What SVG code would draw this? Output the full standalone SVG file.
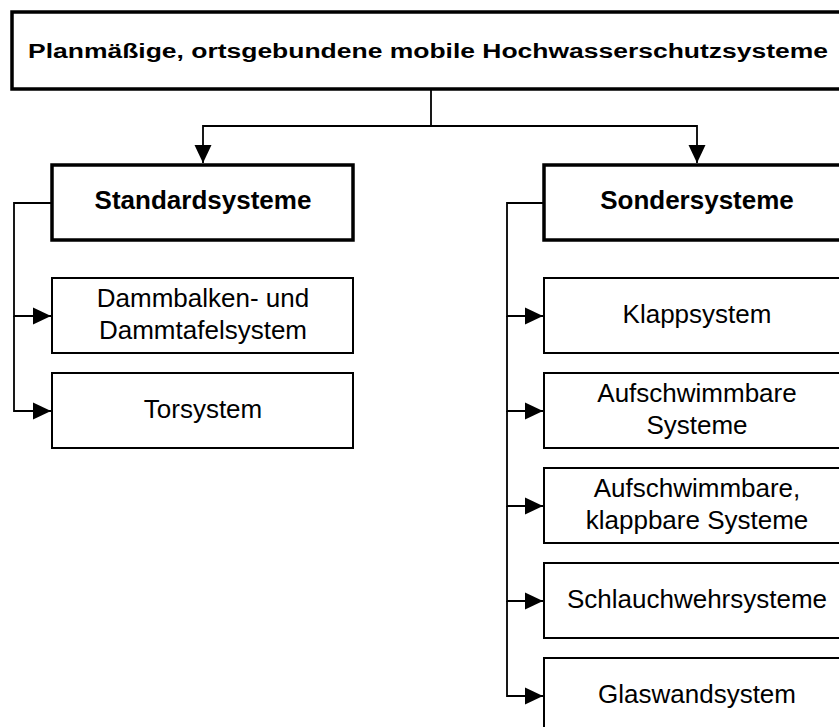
<svg xmlns="http://www.w3.org/2000/svg" width="839" height="727" viewBox="0 0 839 727">
<defs>
<marker id="ah" markerUnits="userSpaceOnUse" markerWidth="18" markerHeight="18" viewBox="0 0 18 18" refX="18" refY="9" orient="auto">
<path d="M0,0.5 L18,9 L0,17.5 Z" fill="#000"/>
</marker>
<style>
.thick{fill:#fff;stroke:#000;stroke-width:3.5}
.thin{fill:#fff;stroke:#000;stroke-width:2}
.con{fill:none;stroke:#000;stroke-width:1.8}
text{font-family:"Liberation Sans",Arial,sans-serif;font-size:26px;fill:#000;text-anchor:middle}
.b{font-weight:bold}
.t{font-size:19.5px}
</style>
</defs>
<rect width="839" height="727" fill="#fff"/>
<g id="connectors">
<polyline class="con" points="431,89 431,126 203,126 203,163" marker-end="url(#ah)"/>
<polyline class="con" points="431,126 697,126 697,163" marker-end="url(#ah)"/>
<polyline class="con" points="52,203 14,203 14,316 51,316" marker-end="url(#ah)"/>
<polyline class="con" points="14,316 14,411 51,411" marker-end="url(#ah)"/>
<polyline class="con" points="544,203 507,203 507,316 543,316" marker-end="url(#ah)"/>
<polyline class="con" points="507,316 507,411 543,411" marker-end="url(#ah)"/>
<polyline class="con" points="507,411 507,506 543,506" marker-end="url(#ah)"/>
<polyline class="con" points="507,506 507,601 543,601" marker-end="url(#ah)"/>
<polyline class="con" points="507,601 507,696 543,696" marker-end="url(#ah)"/>
</g>
<g id="root">
<rect class="thick" x="12" y="12" width="836" height="77"/>
<text class="b t" x="428" y="57.5" textLength="800" lengthAdjust="spacingAndGlyphs">Planmäßige, ortsgebundene mobile Hochwasserschutzsysteme</text>
</g>
<g id="standard">
<rect class="thick" x="52" y="165" width="301" height="75"/>
<text class="b" x="203" y="209">Standardsysteme</text>
</g>
<g id="damm">
<rect class="thin" x="52" y="278" width="301" height="75"/>
<text x="203" y="307">Dammbalken- und</text>
<text x="203" y="339">Dammtafelsystem</text>
</g>
<g id="tor">
<rect class="thin" x="52" y="373" width="301" height="75"/>
<text x="203" y="418">Torsystem</text>
</g>
<g id="sonder">
<rect class="thick" x="544" y="165" width="306" height="75"/>
<text class="b" x="697" y="209">Sondersysteme</text>
</g>
<g id="klapp">
<rect class="thin" x="544" y="278" width="306" height="75"/>
<text x="697" y="323">Klappsystem</text>
</g>
<g id="aufschwimm">
<rect class="thin" x="544" y="373" width="306" height="75"/>
<text x="697" y="402">Aufschwimmbare</text>
<text x="697" y="434">Systeme</text>
</g>
<g id="aufklapp">
<rect class="thin" x="544" y="468" width="306" height="75"/>
<text x="697" y="497">Aufschwimmbare,</text>
<text x="697" y="529">klappbare Systeme</text>
</g>
<g id="schlauch">
<rect class="thin" x="544" y="563" width="306" height="75"/>
<text x="697" y="608">Schlauchwehrsysteme</text>
</g>
<g id="glas">
<rect class="thin" x="544" y="658" width="306" height="75"/>
<text x="697" y="703">Glaswandsystem</text>
</g>
</svg>
